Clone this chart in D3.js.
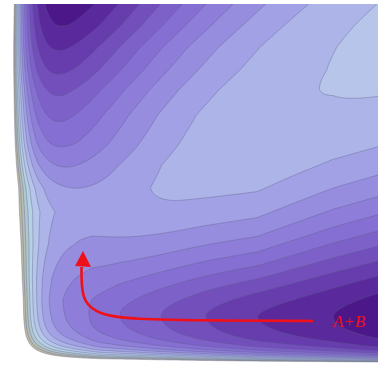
<!DOCTYPE html>
<html>
<head>
<meta charset="utf-8">
<script src="https://cdn.jsdelivr.net/npm/d3@7"></script>
<style>
  html, body { margin: 0; padding: 0; background: #fff; }
  svg { display: block; }
</style>
</head>
<body>
<script>
// left (product) valley, sampled down the picture: floor position, floor energy, width, plateau
const leftValleyY = [-10, 4, 25, 47, 70, 90, 115, 143, 165, 188, 212, 245, 278, 300, 340];
const leftValleyX = [59, 58, 55, 50, 48, 47, 47, 50, 56, 70, 75, 77, 78, 78, 78];
const leftValleyE = [0, 0.2, 0.8, 1.62, 2.52, 3.47, 4.45, 5.56, 6.73, 7.95, 8.6, 8, 7, 6.5, 6.5];
const leftValleyW = [122, 121, 112, 104, 98, 94, 89, 87, 86, 86, 90, 90, 90, 90, 90];
const leftValleyTop = [11.85, 11.85, 11.75, 11.6, 11.5, 11.5, 11.5, 11.5, 11.55, 11.6, 11.4, 11.2, 11, 11, 11];

// bottom (reactant A+B) valley, sampled along the picture
const bottomValleyX = [20, 50, 65, 80, 92, 120, 160, 205, 257, 333, 379, 420];
const bottomValleyY = [317, 317, 317, 316, 315, 316, 317, 317, 317, 317, 317, 317];
const bottomValleyE = [14, 11, 8.2, 6.9, 6.0, 5.0, 4.0, 3.0, 2.0, 1.0, 0.3, 0];
const bottomValleyW = [62, 62, 62, 62, 61, 60, 60, 61, 62, 80, 88, 90];
const bottomValleyTop = [11.3, 11.3, 11.3, 11.3, 11.3, 11.3, 11.3, 11.4, 11.5, 12, 12.35, 12.35];

// saddle point, and how softly the two valleys merge with distance from it
const saddle = [75, 212];
const mergeDistance = [100, 220];
const mergeSoftness = [0.7, 1.05];

// repulsive walls
const leftWallY = [4, 212, 300];
const leftWallX = [12.5, 7, 13];
const leftWallRange = [10, 12.5, 13.7];
const bottomWallX = [40, 100, 379];
const bottomWallRange = [12, 8, 5];

// contour levels and the fill of each band (band k = between level k and k+1)
const levels = d3.range(1, 16);
const bandColors = ['#4c1889', '#5a2a9c', '#673cad', '#734fbc', '#7d60c8', '#866fd2', '#8e7dd9', '#978ddf',
  '#a3a1e5', '#adb4e8', '#b8c5ea', '#b6d0e4', '#b2c8d0', '#b6beb8', '#bdbaa2'];

// trajectory arrow and label
const arrowX = [313, 220, 130, 98, 84, 81.5, 81.5];
const arrowY = [321, 320.5, 319.5, 314, 302, 285, 267];
const label = 'A+B';

const width = 379, height = 367;
const wallHeight = 15, wallBottom = 363, outerRange = 100;

const x = d3.scaleLinear().domain([0, 378]).range([0, 378]);
const y = d3.scaleLinear().domain([4, 367]).range([4, 367]);

const lx = d3.scaleLinear().domain(leftValleyY).range(leftValleyX).clamp(true);
const le = d3.scaleLinear().domain(leftValleyY).range(leftValleyE).clamp(true);
const lw = d3.scaleLinear().domain(leftValleyY).range(leftValleyW).clamp(true);
const lp = d3.scaleLinear().domain(leftValleyY).range(leftValleyTop).clamp(true);
const by = d3.scaleLinear().domain(bottomValleyX).range(bottomValleyY).clamp(true);
const be = d3.scaleLinear().domain(bottomValleyX).range(bottomValleyE).clamp(true);
const bw = d3.scaleLinear().domain(bottomValleyX).range(bottomValleyW).clamp(true);
const bp = d3.scaleLinear().domain(bottomValleyX).range(bottomValleyTop).clamp(true);
const soft = d3.scaleLinear().domain(mergeDistance).range(mergeSoftness).clamp(true);
const wx = d3.scaleLinear().domain(leftWallY).range(leftWallX).clamp(true);
const lr = d3.scaleLinear().domain(leftWallY).range(leftWallRange).clamp(true);
const br = d3.scaleLinear().domain(bottomWallX).range(bottomWallRange).clamp(true);

// one valley: Morse-like rise away from the floor, gentle rise towards the wall side
function channel(F, P, w, s) {
  const m = s >= 0 ? Math.pow(1 - Math.exp(-s / w), 2) : Math.pow(s / outerRange, 2);
  return F + (P - F) * m;
}

function energy(u, v) {
  const vl = channel(le(v), lp(v), lw(v), u - lx(v));
  const vb = channel(be(u), bp(u), bw(u), by(u) - v);
  const t = soft(Math.hypot(u - saddle[0], v - saddle[1]));
  const lo = Math.min(vl, vb);
  let e = lo - t * Math.log(Math.exp(-(vl - lo) / t) + Math.exp(-(vb - lo) / t));
  e += wallHeight * Math.exp(-(u - wx(v)) / lr(v));
  e += wallHeight * Math.exp(-(wallBottom - v) / br(u));
  return e;
}

// sample grid (slightly larger than the plot, then clipped)
const gx0 = -4, gy0 = 0, nx = 388, ny = 372;
const values = new Float64Array(nx * ny);
for (let j = 0; j < ny; j++) {
  for (let i = 0; i < nx; i++) {
    values[i + j * nx] = -energy(gx0 + i + 0.5, gy0 + j + 0.5);
  }
}

const contours = d3.contours()
  .size([nx, ny])
  .thresholds(levels.slice().reverse().map(k => -k))(values);

const svg = d3.select('body').append('svg')
  .attr('width', width)
  .attr('height', height);

svg.append('defs').append('clipPath').attr('id', 'plot-clip')
  .append('rect')
  .attr('x', x(0)).attr('y', y(4))
  .attr('width', x(378) - x(0)).attr('height', y(367) - y(4));

const path = d3.geoPath(d3.geoIdentity().translate([x(gx0), y(gy0)]));

const g = svg.append('g').attr('clip-path', 'url(#plot-clip)');

g.selectAll('path.band')
  .data(contours)
  .join('path')
  .attr('class', 'band')
  .attr('d', path)
  .attr('fill', d => bandColors[-d.value - 1])
  .attr('stroke', 'none');

g.selectAll('path.line')
  .data(contours)
  .join('path')
  .attr('class', 'line')
  .attr('d', path)
  .attr('fill', 'none')
  .attr('stroke', '#5a5f8a')
  .attr('stroke-opacity', 0.5)
  .attr('stroke-width', 0.8);

// trajectory
const line = d3.line().x(d => x(d[0])).y(d => y(d[1])).curve(d3.curveBasis);
svg.append('path')
  .attr('d', line(arrowX.map((v, i) => [v, arrowY[i]])))
  .attr('fill', 'none')
  .attr('stroke', '#f0101a')
  .attr('stroke-width', 2.6);

const tip = [83, 251];
svg.append('path')
  .attr('d', `M${x(tip[0])},${y(tip[1])}L${x(tip[0] + 8)},${y(tip[1] + 16)}L${x(tip[0] - 8)},${y(tip[1] + 15)}Z`)
  .attr('fill', '#f0101a');

svg.append('text')
  .attr('x', x(333))
  .attr('y', y(327))
  .attr('font-family', 'Liberation Serif, DejaVu Serif, serif')
  .attr('font-style', 'italic')
  .attr('font-size', 17)
  .attr('fill', '#f0101a')
  .text(label);
</script>
</body>
</html>
